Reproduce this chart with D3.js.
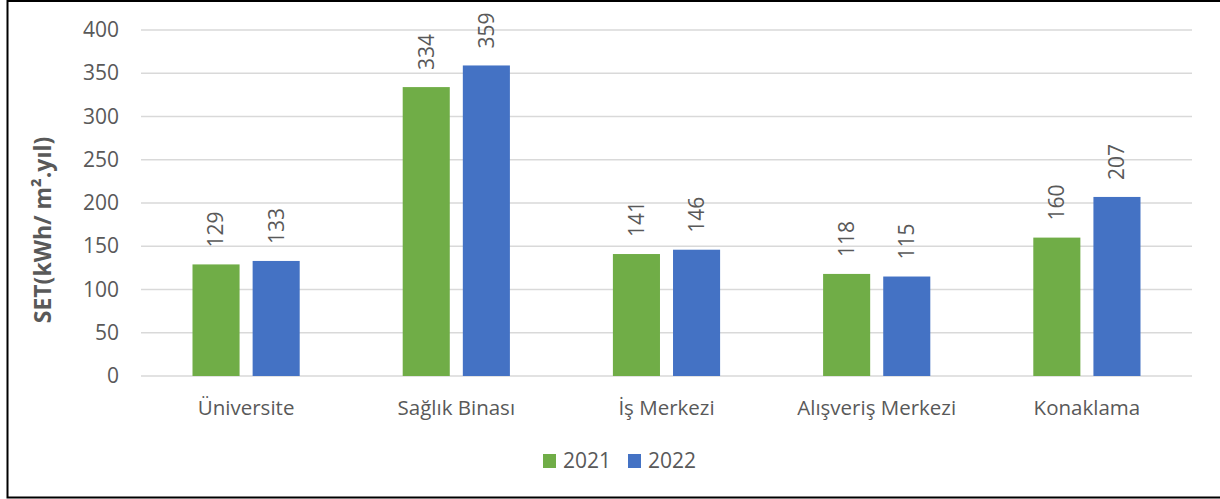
<!DOCTYPE html>
<meta charset="utf-8">
<style>
  body { margin: 0; background: #fff; }
  text { font-family: "Open Sans", sans-serif; fill: #595959; }
</style>
<body>
<div id="chart"></div>
<script src="https://cdn.jsdelivr.net/npm/d3@7"></script>
<script>

var categories = ["Üniversite", "Sağlık Binası", "İş Merkezi", "Alışveriş Merkezi", "Konaklama"];
var seriesNames = ["2021", "2022"];
var values2021 = [129, 334, 141, 118, 160];
var values2022 = [133, 359, 146, 115, 207];
var yTicks = [0, 50, 100, 150, 200, 250, 300, 350, 400];
var colors = ["#70AD47", "#4472C4"];

var width = 1220,
    height = 499;

var svg = d3.select("#chart").append("svg")
    .attr("width", width)
    .attr("height", height);

// frame (left, top, bottom only)
svg.append("path")
    .attr("d", "M" + (width) + ",1 H7.5 V497.5 H" + width)
    .attr("fill", "none")
    .attr("stroke", "#000")
    .attr("stroke-width", 2);

var x0 = d3.scaleBand()
    .domain(categories)
    .range([141, 1192])
    .paddingInner(0.49)
    .paddingOuter(0.245);

var x1 = d3.scaleBand()
    .domain(seriesNames)
    .range([0, x0.bandwidth()])
    .paddingInner(0.217);

var y = d3.scaleLinear()
    .domain([0, 400])
    .range([376, 30]);

// gridlines
svg.append("g")
  .selectAll("line")
  .data(yTicks)
  .enter().append("line")
    .attr("x1", 141)
    .attr("x2", 1192)
    .attr("y1", function(d) { return y(d); })
    .attr("y2", function(d) { return y(d); })
    .attr("stroke", "#d9d9d9")
    .attr("stroke-width", 1.5);

var yAxis = svg.append("g")
    .attr("transform", "translate(119,0)")
    .call(d3.axisLeft(y).tickValues(yTicks).tickSize(0).tickPadding(0));
yAxis.select(".domain").remove();
yAxis.selectAll("text")
    .style("font-family", "'Open Sans', sans-serif")
    .style("font-size", "21px")
    .attr("fill", "#595959");

var xAxis = svg.append("g")
    .attr("transform", "translate(0,376)")
    .call(d3.axisBottom(x0).tickSize(0).tickPadding(24));
xAxis.select(".domain").remove();
xAxis.selectAll("text")
    .style("font-family", "'Open Sans', sans-serif")
    .style("font-size", "20.5px")
    .attr("fill", "#595959");

var rows = categories.map(function(c, i) {
  return { cat: c, vals: [values2021[i], values2022[i]] };
});

var groups = svg.append("g")
  .selectAll("g")
  .data(rows)
  .enter().append("g")
    .attr("transform", function(d) { return "translate(" + x0(d.cat) + ",0)"; });

var bars = groups.selectAll("g.bar")
  .data(function(d) {
    return d.vals.map(function(v, j) { return { key: seriesNames[j], value: v, j: j }; });
  })
  .enter().append("g").attr("class", "bar");

bars.append("rect")
    .attr("x", function(d) { return x1(d.key); })
    .attr("y", function(d) { return y(d.value); })
    .attr("width", x1.bandwidth())
    .attr("height", function(d) { return y(0) - y(d.value); })
    .attr("fill", function(d) { return colors[d.j]; });

bars.append("text")
    .attr("transform", function(d) {
      return "translate(" + (x1(d.key) + x1.bandwidth() / 2) + "," + (y(d.value) - 17) + ") rotate(-90)";
    })
    .attr("dy", "0.35em")
    .attr("text-anchor", "start")
    .style("font-size", "21px")
    .text(function(d) { return d.value; });

// y axis title
svg.append("text")
    .attr("transform", "translate(43,230) rotate(-90)")
    .attr("dy", "0.35em")
    .attr("text-anchor", "middle")
    .style("font-size", "23px")
    .style("font-weight", "bold")
    .text("SET(kWh/ m².yıl)");

// legend
var legend = svg.append("g")
  .selectAll("g")
  .data(seriesNames)
  .enter().append("g")
    .attr("transform", function(d, i) { return "translate(" + (543 + i * 85) + ",461)"; });

legend.append("rect")
    .attr("x", 0)
    .attr("y", -7)
    .attr("width", 13)
    .attr("height", 14)
    .attr("fill", function(d, i) { return colors[i]; });

legend.append("text")
    .attr("x", 20)
    .attr("dy", "0.35em")
    .style("font-size", "21px")
    .text(function(d) { return d; });

</script>
</body>
